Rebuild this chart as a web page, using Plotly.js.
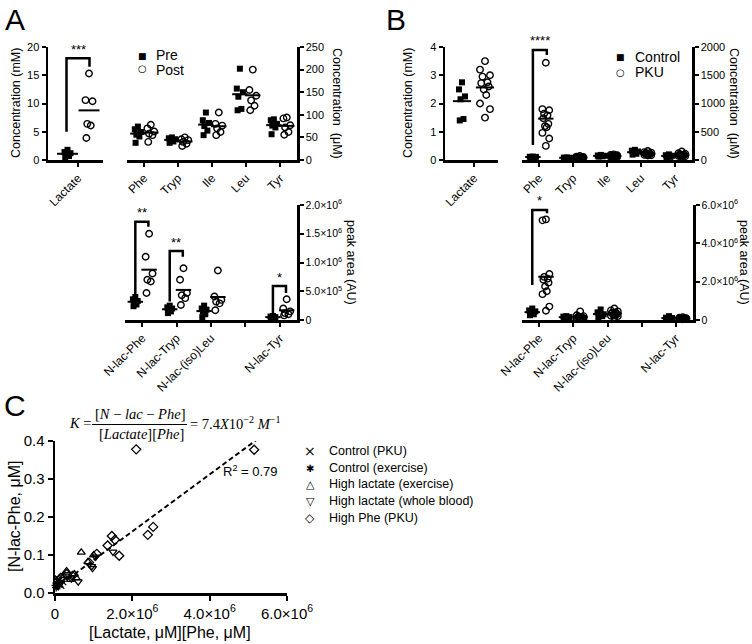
<!DOCTYPE html>
<html><head><meta charset="utf-8">
<script src="https://cdn.plot.ly/plotly-3.0.1.min.js"></script>
<style>html,body{margin:0;padding:0;background:#fff}#chart{width:752px;height:644px}</style>
</head><body><div id="chart"></div>
<script>
// ---------------- DATA ----------------
// Panel A (exercise): lactate (mM), amino acids (uM), N-lactoyl amino acids (peak area)
const aLacCats = ['Lactate'];
const aLacPre  = [1.8, 1.4, 1.2, 1.0, 0.7, 0.5];
const aLacPost = [15.3, 10.6, 10.4, 6.4, 6.1, 3.9];
const aminoCats = ['Phe', 'Tryp', 'Ile', 'Leu', 'Tyr'];
const aAminoPre = [
  [74, 68, 62, 56, 52, 38],
  [50, 48, 46, 44, 41, 38],
  [105, 88, 82, 75, 65, 55],
  [202, 158, 150, 140, 113, 110],
  [90, 88, 80, 76, 72, 57]
];
const aAminoPost = [
  [78, 70, 63, 58, 55, 40],
  [50, 46, 44, 40, 36, 31],
  [105, 80, 76, 70, 62, 55],
  [200, 155, 142, 132, 120, 110],
  [94, 92, 77, 72, 62, 56]
];
const nlacCats = ['N-lac-Phe', 'N-lac-Tryp', 'N-lac-(iso)Leu', '', 'N-lac-Tyr'];
const aNlacPre = [
  [0.40e6, 0.36e6, 0.33e6, 0.30e6, 0.27e6, 0.24e6],
  [0.25e6, 0.22e6, 0.20e6, 0.18e6, 0.15e6, 0.12e6],
  [0.25e6, 0.20e6, 0.18e6, 0.15e6, 0.10e6, 0.05e6],
  [],
  [0.07e6, 0.06e6, 0.05e6, 0.05e6, 0.04e6, 0.03e6]
];
const aNlacPost = [
  [1.50e6, 1.10e6, 0.81e6, 0.70e6, 0.67e6, 0.47e6],
  [0.90e6, 0.70e6, 0.47e6, 0.43e6, 0.38e6, 0.26e6],
  [0.86e6, 0.41e6, 0.35e6, 0.32e6, 0.29e6, 0.17e6],
  [],
  [0.36e6, 0.20e6, 0.15e6, 0.12e6, 0.10e6, 0.08e6]
];
// significance brackets (category index, leg bottoms, bracket top, stars)
const aLacSigLow = [5.0], aLacSigTop = [18.0], aLacSigHigh = [16.5], aLacSigText = ['***'];
const aNlacSigCat  = [0, 1, 4];
const aNlacSigLow  = [0.38e6, 0.32e6, 0.12e6];
const aNlacSigTop  = [1.71e6, 1.20e6, 0.59e6];
const aNlacSigHigh = [1.62e6, 1.10e6, 0.47e6];
const aNlacSigText = ['**', '**', '*'];

// Panel B (PKU)
const bLacCtrl = [2.75, 2.5, 2.25, 2.15, 1.45, 1.4];
const bLacPku  = [3.5, 3.2, 3.0, 2.95, 2.75, 2.72, 2.6, 2.5, 2.3, 2.0, 1.8, 1.5];
const bAminoCtrl = [
  [60, 58, 55, 52, 50, 48],
  [45, 42, 40, 38, 36, 35],
  [90, 80, 75, 70, 65, 60],
  [180, 165, 150, 130, 110, 95],
  [100, 85, 75, 65, 55, 50]
];
const bAminoPku = [
  [1720, 900, 880, 820, 790, 740, 640, 600, 580, 480, 380, 250],
  [70, 60, 55, 50, 48, 45, 42, 40, 38, 35, 32, 30],
  [100, 90, 85, 80, 75, 70, 68, 65, 62, 60, 55, 50],
  [160, 140, 130, 120, 115, 110, 105, 100, 95, 90, 85, 80],
  [150, 120, 110, 100, 95, 90, 85, 80, 75, 70, 65, 60]
];
const bNlacCtrl = [
  [0.60e6, 0.50e6, 0.45e6, 0.35e6, 0.30e6, 0.25e6],
  [0.20e6, 0.18e6, 0.15e6, 0.14e6, 0.12e6, 0.10e6],
  [0.55e6, 0.40e6, 0.30e6, 0.25e6, 0.20e6, 0.15e6],
  [],
  [0.20e6, 0.12e6, 0.10e6, 0.08e6, 0.06e6, 0.05e6]
];
const bNlacPku = [
  [5.25e6, 5.20e6, 2.40e6, 2.25e6, 2.15e6, 2.10e6, 1.95e6, 1.75e6, 1.50e6, 1.35e6, 0.70e6, 0.48e6],
  [0.45e6, 0.25e6, 0.20e6, 0.18e6, 0.15e6, 0.12e6, 0.10e6, 0.10e6, 0.08e6, 0.07e6, 0.06e6, 0.05e6],
  [0.60e6, 0.50e6, 0.45e6, 0.40e6, 0.38e6, 0.35e6, 0.30e6, 0.28e6, 0.25e6, 0.22e6, 0.20e6, 0.15e6],
  [],
  [0.15e6, 0.12e6, 0.10e6, 0.10e6, 0.09e6, 0.08e6, 0.07e6, 0.07e6, 0.06e6, 0.05e6, 0.05e6, 0.04e6]
];
const bAminoSigCat = [0], bAminoSigLow = [265], bAminoSigTop = [1947], bAminoSigHigh = [1858], bAminoSigText = ['****'];
const bNlacSigCat = [0], bNlacSigLow = [1.83e6], bNlacSigTop = [5.74e6], bNlacSigHigh = [5.57e6], bNlacSigText = ['*'];

// Panel C: [Lactate][Phe] vs N-lac-Phe
const cSeriesNames = ['Control (PKU)', 'Control (exercise)', 'High lactate (exercise)', 'High lactate (whole blood)', 'High Phe (PKU)'];
const cPkuCtrlX = [0.05e6, 0.08e6, 0.12e6, 0.15e6, 0.10e6, 0.20e6];
const cPkuCtrlY = [0.040, 0.030, 0.025, 0.020, 0.035, 0.030];
const cExCtrlX  = [0.02e6, 0.05e6, 0.08e6, 0.03e6, 0.06e6, 0.10e6];
const cExCtrlY  = [0.020, 0.025, 0.030, 0.015, 0.018, 0.022];
const cExHighX  = [0.68e6, 0.30e6, 0.50e6, 0.85e6, 0.40e6, 0.22e6, 1.00e6, 0.55e6];
const cExHighY  = [0.107, 0.058, 0.050, 0.082, 0.035, 0.045, 0.100, 0.040];
const cWbHighX  = [1.50e6, 0.95e6, 0.97e6, 0.60e6, 0.42e6, 1.05e6, 0.30e6];
const cWbHighY  = [0.108, 0.070, 0.065, 0.030, 0.038, 0.095, 0.045];
const cPheHighX = [2.10e6, 5.15e6, 2.54e6, 2.40e6, 1.66e6, 1.47e6, 1.55e6, 1.36e6, 1.08e6, 0.88e6, 0.45e6, 0.30e6, 0.15e6];
const cPheHighY = [0.378, 0.377, 0.174, 0.153, 0.098, 0.150, 0.140, 0.125, 0.103, 0.080, 0.045, 0.050, 0.040];
const cFitIntercept = 0.012;      // uM
const cFitSlope = 0.075e-6;       // per (uM*uM)
const cFitXRange = [0, 5.2e6];
const cR2 = 0.79;

// tick labels
const aNlacTickVals = [0, 0.5e6, 1.0e6, 1.5e6, 2.0e6];
const aNlacTickText = ['0', '5.0×10<sup>5</sup>', '1.0×10<sup>6</sup>', '1.5×10<sup>6</sup>', '2.0×10<sup>6</sup>'];
const bNlacTickVals = [0, 2e6, 4e6, 6e6];
const bNlacTickText = ['0', '2.0×10<sup>6</sup>', '4.0×10<sup>6</sup>', '6.0×10<sup>6</sup>'];
const cXTickVals = [0, 2e6, 4e6, 6e6];
const cXTickText = ['0', '2.0×10<sup>6</sup>', '4.0×10<sup>6</sup>', '6.0×10<sup>6</sup>'];

// ---------------- BUILD ----------------
const FONT = '"Liberation Sans", Arial, Helvetica, sans-serif';
const SYMF = '"DejaVu Sans", sans-serif';
const SERIF = '"Liberation Serif", "Times New Roman", serif';
const W = 752, H = 644;
const px = v => v / W, py = v => 1 - v / H;
const traces = [], annotations = [], shapes = [];
const JIT = [0, -1, 1, -0.5, 0.5, -0.75, 0.75, -0.25, 0.25, -1, 1, 0, -0.5];

function addGroup(vals, cat, off, xa, ya, filled, jw, meanW) {
  if (!vals.length) return;
  const xs = vals.map((v, i) => cat + off + JIT[i % JIT.length] * jw);
  traces.push({type: 'scatter', mode: 'markers', x: xs, y: vals, xaxis: xa, yaxis: ya, showlegend: false,
    hoverinfo: 'skip', cliponaxis: false,
    marker: filled ? {symbol: 'square', size: 6, color: '#000'} :
                     {symbol: 'circle-open', size: 6.5, color: '#000', line: {width: 1.4}}});
  const m = vals.reduce((a, b) => a + b, 0) / vals.length;
  traces.push({type: 'scatter', mode: 'markers', x: [cat + off], y: [m], xaxis: xa, yaxis: ya, showlegend: false,
    hoverinfo: 'skip', cliponaxis: false,
    marker: {symbol: 'line-ew', size: meanW, color: '#000', line: {color: '#000', width: 2}}});
}
function addBrackets(cats, lows, tops, highs, texts, xa, ya, xl, xr) {
  cats.forEach((c, i) => {
    traces.push({type: 'scatter', mode: 'lines', x: [c + xl, c + xl, c + xr, c + xr],
      y: [lows[i], tops[i], tops[i], highs[i]], xaxis: xa, yaxis: ya, showlegend: false, hoverinfo: 'skip',
      cliponaxis: false, line: {color: '#000', width: 2.5}});
    annotations.push({xref: xa, yref: ya, x: c + (xl + xr) / 2, y: tops[i], text: texts[i], showarrow: false,
      yanchor: 'middle', yshift: 9, font: {family: FONT, size: 13, color: '#000'}});
  });
}

// Panel A
addGroup(aLacPre, 0, -0.21, 'x', 'y', true, 0.06, 15);
addGroup(aLacPost, 0, 0.22, 'x', 'y', false, 0.07, 15);
addBrackets([0], aLacSigLow, aLacSigTop, aLacSigHigh, aLacSigText, 'x', 'y', -0.23, 0.23);
aminoCats.forEach((c, i) => {
  addGroup(aAminoPre[i], i, -0.18, 'x2', 'y2', true, 0.09, 11);
  addGroup(aAminoPost[i], i, 0.2, 'x2', 'y2', false, 0.1, 11);
});
nlacCats.forEach((c, i) => {
  addGroup(aNlacPre[i], i, -0.2, 'x3', 'y3', true, 0.07, 11);
  addGroup(aNlacPost[i], i, 0.2, 'x3', 'y3', false, 0.1, 11);
});
addBrackets(aNlacSigCat, aNlacSigLow, aNlacSigTop, aNlacSigHigh, aNlacSigText, 'x3', 'y3', -0.2, 0.18);

// Panel B
addGroup(bLacCtrl, 0, -0.24, 'x4', 'y4', true, 0.06, 13);
addGroup(bLacPku, 0, 0.22, 'x4', 'y4', false, 0.1, 13);
aminoCats.forEach((c, i) => {
  addGroup(bAminoCtrl[i], i, -0.18, 'x5', 'y5', true, 0.09, 11);
  addGroup(bAminoPku[i], i, 0.2, 'x5', 'y5', false, 0.1, 11);
});
addBrackets(bAminoSigCat, bAminoSigLow, bAminoSigTop, bAminoSigHigh, bAminoSigText, 'x5', 'y5', -0.18, 0.23);
nlacCats.forEach((c, i) => {
  addGroup(bNlacCtrl[i], i, -0.2, 'x6', 'y6', true, 0.09, 11);
  addGroup(bNlacPku[i], i, 0.2, 'x6', 'y6', false, 0.1, 11);
});
addBrackets(bNlacSigCat, bNlacSigLow, bNlacSigTop, bNlacSigHigh, bNlacSigText, 'x6', 'y6', -0.2, 0.23);

// Panel C
const cX = [cPkuCtrlX, cExCtrlX, cExHighX, cWbHighX, cPheHighX];
const cY = [cPkuCtrlY, cExCtrlY, cExHighY, cWbHighY, cPheHighY];
const cSym = ['x-thin-open', 'asterisk-open', 'triangle-up-open', 'triangle-down-open', 'diamond-open'];
const cGlyph = ['×', '✱', '△', '▽', '◇'];
const cGlyphSize = [14, 10, 11, 11, 12];
traces.push({type: 'scatter', mode: 'lines', x: cFitXRange, y: cFitXRange.map(v => cFitIntercept + cFitSlope * v),
  xaxis: 'x7', yaxis: 'y7', showlegend: false, hoverinfo: 'skip', line: {color: '#000', width: 2, dash: '5px,3px'}});
cSeriesNames.forEach((n, i) => {
  traces.push({type: 'scatter', mode: 'markers', name: n, x: cX[i], y: cY[i], xaxis: 'x7', yaxis: 'y7',
    showlegend: false, cliponaxis: false,
    marker: {symbol: cSym[i], size: 7, color: '#000', line: {color: '#000', width: 1.3}}});
});

// axes
const axBase = {showgrid: false, zeroline: false, showline: true, linecolor: '#000', linewidth: 2.5,
  ticks: 'outside', ticklen: 4, tickwidth: 2, tickcolor: '#000', fixedrange: true,
  tickfont: {family: FONT, size: 11, color: '#000'}};
const catX = (dom, rng, anchor, vals, text) => Object.assign({}, axBase, {domain: dom, range: rng, anchor: anchor,
  tickmode: 'array', tickvals: vals, ticktext: text, tickangle: -45, tickfont: {family: FONT, size: 12, color: '#000'}});
const idx = a => a.map((_, i) => i);
const topDom = [py(160), py(47)], lowDom = [py(320), py(205)], cDom = [py(593), py(441)];
const smallTick = {family: FONT, size: 10.5, color: '#000'};

const layout = {
  width: W, height: H, autosize: false, margin: {l: 0, r: 0, t: 0, b: 0},
  paper_bgcolor: '#fff', plot_bgcolor: 'rgba(0,0,0,0)',
  font: {family: FONT, color: '#000'},
  showlegend: false,
  xaxis: catX([px(48), px(103)], [-0.6, 0.5], 'y', [0], aLacCats),
  yaxis: Object.assign({}, axBase, {domain: topDom, range: [0, 20], dtick: 5, anchor: 'x'}),
  xaxis2: catX([px(127), px(297)], [-0.5, 4.5], 'y2', idx(aminoCats), aminoCats),
  yaxis2: Object.assign({}, axBase, {domain: topDom, range: [0, 250], dtick: 50, anchor: 'x2', side: 'right'}),
  xaxis3: catX([px(125), px(297)], [-0.5, 4.5], 'y3', idx(nlacCats), nlacCats),
  yaxis3: Object.assign({}, axBase, {domain: lowDom, range: [0, 2e6], anchor: 'x3', side: 'right',
    tickmode: 'array', tickvals: aNlacTickVals, ticktext: aNlacTickText, tickfont: smallTick}),
  xaxis4: catX([px(445), px(498)], [-0.58, 0.48], 'y4', [0], aLacCats),
  yaxis4: Object.assign({}, axBase, {domain: topDom, range: [0, 4], dtick: 1, anchor: 'x4'}),
  xaxis5: catX([px(522), px(692)], [-0.5, 4.5], 'y5', idx(aminoCats), aminoCats),
  yaxis5: Object.assign({}, axBase, {domain: topDom, range: [0, 2000], dtick: 500, anchor: 'x5', side: 'right'}),
  xaxis6: catX([px(522), px(693)], [-0.5, 4.5], 'y6', idx(nlacCats), nlacCats),
  yaxis6: Object.assign({}, axBase, {domain: lowDom, range: [0, 6e6], anchor: 'x6', side: 'right',
    tickmode: 'array', tickvals: bNlacTickVals, ticktext: bNlacTickText, tickfont: smallTick}),
  xaxis7: Object.assign({}, axBase, {domain: [px(55), px(287)], range: [0, 6e6], anchor: 'y7',
    tickmode: 'array', tickvals: cXTickVals, ticktext: cXTickText, ticklen: 5,
    tickfont: {family: FONT, size: 15, color: '#000'}}),
  yaxis7: Object.assign({}, axBase, {domain: cDom, range: [0, 0.4], dtick: 0.1, tickformat: '.1f', anchor: 'x7',
    ticklen: 5, tickfont: {family: FONT, size: 15, color: '#000'}}),
  annotations: annotations,
  shapes: shapes
};

function txt(x, y, text, size, opts) {
  annotations.push(Object.assign({xref: 'paper', yref: 'paper', x: px(x), y: py(y), text: text, showarrow: false,
    xanchor: 'center', yanchor: 'middle', font: {family: FONT, size: size, color: '#000'}}, opts || {}));
}
// panel letters
txt(15, 20, 'A', 30); txt(396, 20, 'B', 30); txt(15, 405, 'C', 30);
// axis titles
txt(16, 103, 'Concentration (mM)', 12.5, {textangle: -90});
txt(337, 103, 'Concentration  (μM)', 12.5, {textangle: 90});
txt(351, 262, 'peak area (AU)', 12.5, {textangle: 90});
txt(408, 103, 'Concentration (mM)', 12.5, {textangle: -90});
txt(734, 103, 'Concentration  (μM)', 12.5, {textangle: 90});
txt(744, 262, 'peak area (AU)', 12.5, {textangle: 90});
txt(14, 517, '[N-lac-Phe, μM]', 16, {textangle: -90});
txt(170, 632, '[Lactate, μM][Phe, μM]', 16);
// legends A and B
txt(142, 56, '■', 9, {font: {family: SYMF, size: 9, color: '#000'}}); txt(154, 55.5, 'Pre', 14, {xanchor: 'left'});
txt(142, 69, '○', 10, {font: {family: SYMF, size: 10, color: '#000'}}); txt(154, 69.5, 'Post', 14, {xanchor: 'left'});
txt(620, 57, '■', 9, {font: {family: SYMF, size: 9, color: '#000'}}); txt(633, 56.5, 'Control', 14, {xanchor: 'left'});
txt(620, 72, '○', 10, {font: {family: SYMF, size: 10, color: '#000'}}); txt(633, 72.5, 'PKU', 14, {xanchor: 'left'});
// legend C
const cLegY = [451, 468, 484, 501, 518];
cSeriesNames.forEach((n, i) => {
  txt(310, cLegY[i], cGlyph[i], cGlyphSize[i], {font: {family: SYMF, size: cGlyphSize[i], color: '#000'}});
  txt(327, cLegY[i], n, 12.5, {xanchor: 'left'});
});
// equation
const eqF = {family: SERIF, size: 14.5, color: '#000'};
txt(80, 423, '<i>K</i> =', 14.5, {font: eqF});
txt(140, 414, '[<i>N</i> − <i>lac</i> − <i>Phe</i>]', 14.5, {font: eqF});
txt(141, 434, '[<i>Lactate</i>][<i>Phe</i>]', 14.5, {font: eqF});
txt(188, 423, '= 7.4<i>X</i>10<sup>−2</sup> <i>M</i><sup>−1</sup>', 14.5, {font: eqF, xanchor: 'left'});
shapes.push({type: 'line', xref: 'paper', yref: 'paper', x0: px(92), x1: px(187), y0: py(424.5), y1: py(424.5),
  line: {color: '#000', width: 1}});
txt(250, 471, 'R<sup>2</sup> = ' + cR2.toFixed(2), 13);

Plotly.newPlot('chart', traces, layout, {displayModeBar: false, staticPlot: true});
</script>
</body></html>
